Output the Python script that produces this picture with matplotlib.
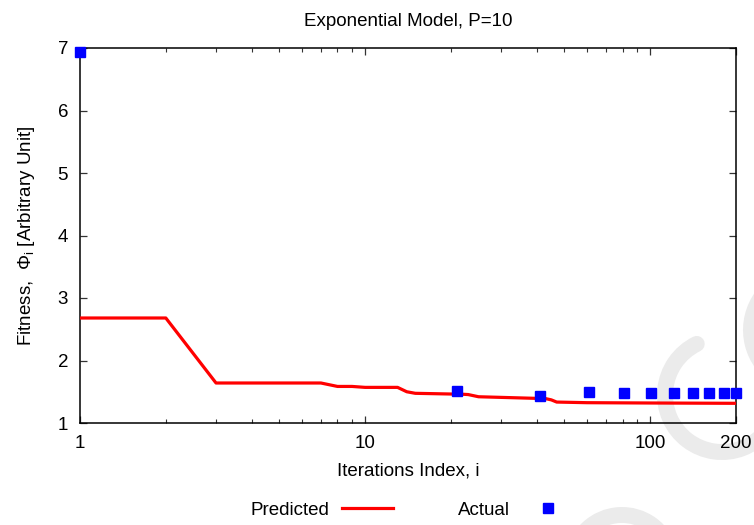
import matplotlib
matplotlib.use("Agg")
import matplotlib.pyplot as plt
from matplotlib.patches import Arc
from matplotlib.lines import Line2D
from matplotlib.ticker import FixedLocator, NullFormatter

plt.rcParams['font.family'] = ['Liberation Sans', 'DejaVu Sans']
plt.rcParams['mathtext.fontset'] = 'custom'
plt.rcParams['mathtext.rm'] = 'Liberation Sans'
plt.rcParams['mathtext.it'] = 'Liberation Sans:italic'

# ---- data ----
pred_i = [1, 2, 3, 7, 8, 9, 10, 13, 14, 15, 22, 23, 25, 43, 45, 47, 60, 100, 200]
pred_v = [2.68, 2.68, 1.64, 1.64, 1.585, 1.585, 1.57, 1.57, 1.50, 1.475, 1.46, 1.455,
          1.42, 1.39, 1.37, 1.335, 1.325, 1.32, 1.315]
act_i = [1, 21, 41, 61, 81, 101, 121, 141, 161, 181, 200]
act_v = [6.93, 1.51, 1.44, 1.49, 1.475, 1.475, 1.475, 1.475, 1.475, 1.475, 1.475]
x_ticks = [1, 10, 100, 200]
x_ticklabels = ['1', '10', '100', '200']
y_ticks = [1, 2, 3, 4, 5, 6, 7]

W, H = 754, 525
FS = 13.5
fig = plt.figure(figsize=(W / 100, H / 100), dpi=100)

# decorative watermark arcs (figure pixel coords: cx, cy, radius, theta1, theta2)
wm = '#ebebeb'
for (cx, cy, r, t1, t2) in [(722, 395, 57, 109, 345),
                            (808, 330, 57, 100, 280),
                            (622, 565, 50, 20, 170)]:
    fig.add_artist(Arc((cx / W, 1 - cy / H), 2 * r / W, 2 * r / H, theta1=t1, theta2=t2,
                       color=wm, lw=11.5, transform=fig.transFigure, capstyle='round', zorder=0))

ax = fig.add_axes([80 / W, 1 - 423 / H, (736 - 80) / W, (423 - 48) / H])
ax.patch.set_alpha(0)

ax.plot(pred_i, pred_v, color='#ff0000', lw=2.3, solid_joinstyle='round', zorder=3)
ax.plot(act_i, act_v, ls='none', marker='s', ms=7.6, color='#0000ff', mec='#0000ff',
        clip_on=False, zorder=4)

ax.set_xscale('log')
ax.set_xlim(1, 200)
ax.set_ylim(1, 7)
ax.xaxis.set_major_locator(FixedLocator(x_ticks))
ax.set_xticklabels(x_ticklabels)
minors = [k * 10 ** d for d in (0, 1) for k in range(2, 10)]
ax.xaxis.set_minor_locator(FixedLocator(minors))
ax.xaxis.set_minor_formatter(NullFormatter())
ax.set_yticks(y_ticks)

for s in ax.spines.values():
    s.set_linewidth(1.1)
    s.set_color('black')
ax.tick_params(which='both', direction='in', top=True, right=True, labelsize=FS,
               colors='#333333', labelcolor='black')
ax.tick_params(which='major', length=5, width=0.9, pad=8.5)
ax.tick_params(which='minor', length=2.6, width=0.8)

ax.set_title('Exponential Model, P=10', fontsize=FS, pad=16)
ax.set_xlabel('Iterations Index, i', fontsize=FS, labelpad=8)
ax.set_ylabel(r'Fitness,  $\mathrm{\Phi_i}$ [Arbitrary Unit]', fontsize=FS, labelpad=15)

handles = [Line2D([], [], color='#ff0000', lw=2.3),
           Line2D([], [], ls='none', marker='s', ms=7.6, color='#0000ff')]
fig.legend(handles, ['Predicted', 'Actual'], loc='center',
           bbox_to_anchor=(412 / W, 1 - 510 / H), ncol=2, frameon=False,
           markerfirst=False, fontsize=FS, handlelength=2.7, handletextpad=0.65,
           columnspacing=3.5)

fig.savefig('out.png', dpi=100)
